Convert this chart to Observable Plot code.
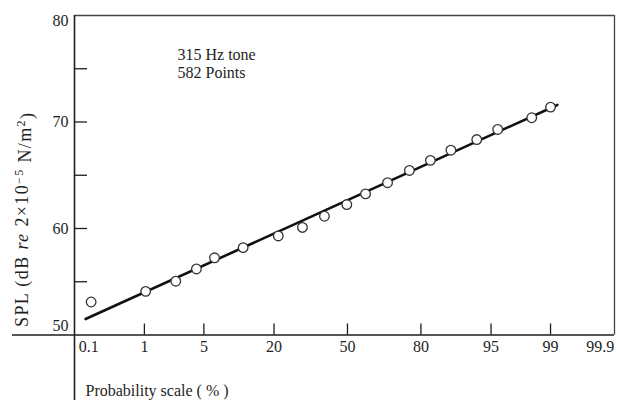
<!DOCTYPE html>
<html>
<head>
<meta charset="utf-8">
<script src="https://cdn.jsdelivr.net/npm/d3@7"></script>
<script src="https://cdn.jsdelivr.net/npm/@observablehq/plot@0.6"></script>
<style>
  body { margin: 0; background: #fff; }
</style>
</head>
<body>
<div id="chart"></div>
<script>
// Cumulative distribution of sound pressure level, 315 Hz tone (582 samples)
const percent = [0.166, 1.04, 2.46, 4.18, 6.39, 11.6, 21.4, 30.3, 39.6, 49.7, 58.2, 67.7, 76.1, 82.9, 88.2, 93.07, 95.74, 98.26, 99.0];
const spl = [53.1, 54.1, 55.05, 56.2, 57.25, 58.2, 59.3, 60.1, 61.15, 62.25, 63.25, 64.3, 65.45, 66.4, 67.35, 68.35, 69.3, 70.4, 71.4];

// Fitted normal distribution: a straight line on probability paper
const fitPercent = [0.135, 99.19];
const fitSpl = [51.5, 71.6];

// Axis ticks and labels
const probTicks = [1, 5, 20, 50, 80, 95, 99];
const probLabels = [0.1, 1, 5, 20, 50, 80, 95, 99, 99.9];
const splTicks = [55, 60, 65, 70, 75];
const splLabels = [50, 60, 70, 80];
const xDomainPercent = [0.0883, 99.889];
const yDomain = [50, 80];

// Inverse of the standard normal CDF (Acklam's rational approximation)
function probit(p) {
  const a = [-3.969683028665376e+01, 2.209460984245205e+02, -2.759285104469687e+02, 1.383577518672690e+02, -3.066479806614716e+01, 2.506628277459239e+00];
  const b = [-5.447609879822406e+01, 1.615858368580409e+02, -1.556989798598866e+02, 6.680131188771972e+01, -1.328068155288572e+01];
  const c = [-7.784894002430293e-03, -3.223964580411365e-01, -2.400758277161838e+00, -2.549732539343734e+00, 4.374664141464968e+00, 2.938163982698783e+00];
  const d = [7.784695709041462e-03, 3.224671290700398e-01, 2.445134137142996e+00, 3.754408661907416e+00];
  const pl = 0.02425;
  if (p < pl) {
    const q = Math.sqrt(-2 * Math.log(p));
    return (((((c[0]*q+c[1])*q+c[2])*q+c[3])*q+c[4])*q+c[5]) / ((((d[0]*q+d[1])*q+d[2])*q+d[3])*q+1);
  }
  if (p > 1 - pl) {
    const q = Math.sqrt(-2 * Math.log(1 - p));
    return -(((((c[0]*q+c[1])*q+c[2])*q+c[3])*q+c[4])*q+c[5]) / ((((d[0]*q+d[1])*q+d[2])*q+d[3])*q+1);
  }
  const q = p - 0.5, r = q * q;
  return (((((a[0]*r+a[1])*r+a[2])*r+a[3])*r+a[4])*r+a[5])*q / (((((b[0]*r+b[1])*r+b[2])*r+b[3])*r+b[4])*r+1);
}
const z = (pct) => probit(pct / 100);

const points = percent.map((p, i) => ({p, spl: spl[i]}));
const fit = fitPercent.map((p, i) => ({p, spl: fitSpl[i]}));
const xMin = z(xDomainPercent[0]), xMax = z(xDomainPercent[1]);

const ink = "#1e1e1e";
const midLabels = probLabels.filter(d => d !== 0.1 && d !== 99.9);

const chart = Plot.plot({
  width: 617,
  height: 400,
  marginTop: 15,
  marginBottom: 65.5,
  marginLeft: 74,
  marginRight: 3,
  x: {domain: [xMin, xMax], axis: null},
  y: {domain: yDomain, axis: null},
  style: {fontFamily: "'Liberation Serif', serif", fontSize: "16px", color: ink, background: "#fff", overflow: "visible"},
  marks: [
    // frame: top and right edges
    Plot.ruleY([yDomain[1]], {stroke: "#444", strokeWidth: 1.3}),
    Plot.ruleX([xMax], {stroke: "#444", strokeWidth: 1.3}),
    // axis lines, crossing and running past the plot area
    Plot.ruleY([yDomain[0]], {stroke: ink, strokeWidth: 1.6, insetLeft: -62}),
    Plot.ruleX([xMin], {stroke: ink, strokeWidth: 1.6, insetBottom: -66}),
    // inward tick marks
    Plot.axisX(probTicks.map(z), {anchor: "bottom", tickSize: -11, tickFormat: () => "", stroke: ink, strokeWidth: 1.3, label: null}),
    Plot.axisY(splTicks, {anchor: "left", tickSize: -13, tickFormat: () => "", stroke: ink, strokeWidth: 1.3, label: null}),
    // x tick labels
    Plot.text(midLabels, {x: z, frameAnchor: "bottom", dy: 6, lineAnchor: "top", text: d => String(d), fill: ink}),
    Plot.text([0.1], {x: z, frameAnchor: "bottom", dy: 6, dx: 11, lineAnchor: "top", text: d => String(d), fill: ink}),
    Plot.text([99.9], {x: z, frameAnchor: "bottom", dy: 6, dx: -17, lineAnchor: "top", text: d => String(d), fill: ink}),
    // y tick labels
    Plot.text(splLabels.filter(d => d === 60 || d === 70), {y: d => d, frameAnchor: "left", dx: -6, textAnchor: "end", text: d => String(d), fill: ink}),
    Plot.text([80], {y: d => d, frameAnchor: "left", dx: -6, dy: 5, textAnchor: "end", text: d => String(d), fill: ink}),
    Plot.text([50], {y: d => d, frameAnchor: "left", dx: -6, dy: -9, textAnchor: "end", text: d => String(d), fill: ink}),
    // x axis title
    Plot.text(["Probability scale ( % )"], {frameAnchor: "bottom-left", dx: 11, dy: 61, lineAnchor: "bottom", textAnchor: "start", fill: ink}),
    // annotation
    Plot.text(["315 Hz tone\n582 Points"], {frameAnchor: "top-left", dx: 103, dy: 32, lineAnchor: "top", textAnchor: "start", lineHeight: 1.1, fill: ink}),
    // fitted line and measured points
    Plot.line(fit, {x: d => z(d.p), y: "spl", stroke: "#111", strokeWidth: 2.6}),
    Plot.dot(points, {x: d => z(d.p), y: "spl", r: 4.8, fill: "#fff", stroke: "#333", strokeWidth: 1.3})
  ]
});

document.getElementById("chart").append(chart);

// y axis title with italic "re" and superscripts
const svg = d3.select(chart.tagName.toLowerCase() === "svg" ? chart : chart.querySelector("svg"));
const title = svg.append("text")
  .attr("transform", "translate(28,220) rotate(-90)")
  .attr("text-anchor", "middle")
  .attr("textLength", 214)
  .attr("lengthAdjust", "spacing")
  .attr("fill", ink)
  .style("font-family", "'Liberation Serif', serif")
  .style("font-size", "18px");
title.append("tspan").text("SPL (dB ");
title.append("tspan").style("font-style", "italic").text("re");
title.append("tspan").text(" 2\u00d710");
title.append("tspan").attr("dy", "-0.45em").style("font-size", "12px").text("\u22125");
title.append("tspan").attr("dy", "0.45em").text(" N/m");
title.append("tspan").attr("dy", "-0.45em").style("font-size", "12px").text("2");
title.append("tspan").attr("dy", "0.45em").text(")");
</script>
</body>
</html>
